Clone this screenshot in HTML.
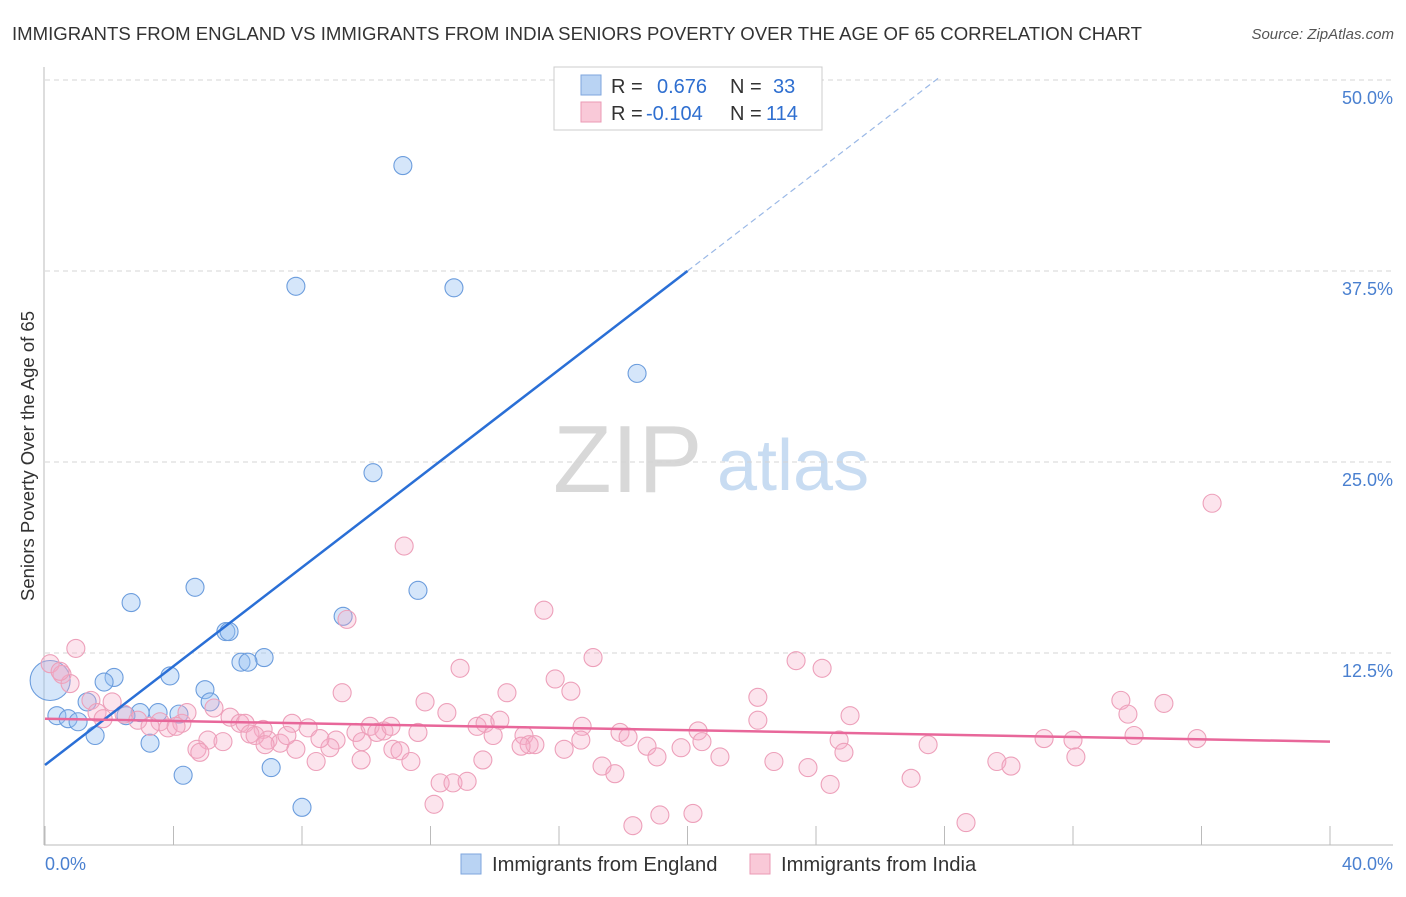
<!DOCTYPE html>
<html><head><meta charset="utf-8"><style>
body{margin:0;background:#fff;font-family:"Liberation Sans",sans-serif;}
svg text{font-family:"Liberation Sans",sans-serif;}
</style></head><body>
<svg id="chart" width="1406" height="892" xmlns="http://www.w3.org/2000/svg">
<text x="12" y="40" font-size="18.5" fill="#333" textLength="1130" lengthAdjust="spacingAndGlyphs">IMMIGRANTS FROM ENGLAND VS IMMIGRANTS FROM INDIA SENIORS POVERTY OVER THE AGE OF 65 CORRELATION CHART</text>
<text x="1394" y="39" font-size="15" fill="#555" font-style="italic" text-anchor="end">Source: ZipAtlas.com</text>
<g>
<text x="553" y="492" font-size="96" font-family="Liberation Serif" fill="#d8d8d8">ZIP</text>
<text x="717" y="490" font-size="72" fill="#c8dcf2">atlas</text>
</g>
<g id="grid"></g>
<g id="axes"></g>
<g id="blue"></g>
<g id="pink"></g>
<g id="lines"></g>
<g>
<rect x="554" y="67" width="268" height="63" fill="#fff" stroke="#ccc"/>
<rect x="581" y="75" width="20" height="20" fill="#b9d3f3" stroke="#7ea6de"/>
<rect x="581" y="102" width="20" height="20" fill="#f9c9d8" stroke="#eb9ab5"/>
<text x="611" y="93" font-size="20" fill="#333">R = </text><text x="657" y="93" font-size="20" fill="#2f6fd0">0.676</text>
<text x="730" y="93" font-size="20" fill="#333">N = </text><text x="773" y="93" font-size="20" fill="#2f6fd0">33</text>
<text x="611" y="120" font-size="20" fill="#333">R = </text><text x="646" y="120" font-size="20" fill="#2f6fd0">-0.104</text>
<text x="730" y="120" font-size="20" fill="#333">N = </text><text x="766" y="120" font-size="20" fill="#2f6fd0">114</text>
</g>
<g>
<rect x="461" y="854" width="20" height="20" fill="#b9d3f3" stroke="#7ea6de"/>
<text x="492" y="871" font-size="20.2" fill="#333">Immigrants from England</text>
<rect x="750" y="854" width="20" height="20" fill="#f9c9d8" stroke="#eb9ab5"/>
<text x="781" y="871" font-size="20.2" fill="#333">Immigrants from India</text>
</g>
<text transform="translate(34,456) rotate(-90)" font-size="18.5" fill="#333" text-anchor="middle">Seniors Poverty Over the Age of 65</text>
<text x="45" y="870" font-size="18" fill="#4a80d0">0.0%</text>
<text x="1393" y="870" font-size="18" fill="#4a80d0" text-anchor="end">40.0%</text>
</svg>
<script>
const yTicks=[12.5,25,37.5,50];
const yTickLabels=["12.5%","25.0%","37.5%","50.0%"];
const xTicks=[0,4,8,12,16,20,24,28,32,36,40];
const blueX=[0.16,11.14,7.81,12.73,18.43,10.21,4.67,2.68,11.61,9.28,5.63,5.73,6.82,6.10,6.32,3.89,2.15,1.84,4.98,5.14,1.31,0.37,0.72,1.03,2.96,3.52,4.17,2.52,1.56,3.27,4.30,7.04,8.0];
const blueY=[10.7,44.4,36.5,36.4,30.8,24.3,16.8,15.8,16.6,14.9,13.9,13.9,12.2,11.9,11.9,11.0,10.9,10.6,10.1,9.3,9.3,8.4,8.2,8.0,8.6,8.6,8.5,8.4,7.1,6.6,4.5,5.0,2.4];
const blueR=[20,9,9,9,9,9,9,9,9,9,9,9,9,9,9,9,9,9,9,9,9,9,9,9,9,9,9,9,9,9,9,9,9];
const pinkX=[36.33,11.18,15.53,9.40,0.96,17.06,23.38,24.19,12.92,0.16,0.53,0.78,15.88,16.37,9.25,22.19,33.49,34.83,33.71,11.83,14.38,1.43,2.09,25.06,12.51,22.19,5.76,5.26,2.46,2.89,1.62,1.81,3.58,3.83,4.26,4.42,6.07,6.23,6.79,7.69,8.19,9.06,9.68,10.12,10.33,10.55,11.61,13.45,13.70,14.16,14.91,16.72,17.90,18.15,20.33,20.45,24.72,31.10,32.00,35.86,33.90,27.49,6.38,6.94,7.32,7.81,8.87,8.56,9.87,10.83,11.05,15.07,15.25,14.82,16.68,13.95,16.16,18.74,19.05,19.80,21.01,22.69,23.75,24.87,26.96,29.63,30.07,32.09,8.44,9.84,11.39,13.63,17.34,17.74,12.30,12.70,13.14,12.11,18.30,19.14,20.17,28.67,24.44,5.07,4.73,5.54,3.27,4.08,6.54,0.47,7.53,4.82,6.85,10.77];
const pinkY=[22.3,19.5,15.3,14.7,12.8,12.2,12.0,11.5,11.5,11.8,11.1,10.5,10.8,10.0,9.9,9.6,9.4,9.2,8.5,9.3,9.9,9.4,9.3,8.4,8.6,8.1,8.3,8.9,8.5,8.1,8.6,8.2,8.0,7.6,7.9,8.6,7.9,7.9,7.5,7.9,7.6,6.8,7.3,7.7,7.3,7.4,7.3,7.7,7.9,8.1,7.1,7.7,7.3,7.0,7.4,6.7,6.8,6.9,6.8,6.9,7.1,6.5,7.2,6.8,6.6,6.2,6.3,6.9,6.7,6.2,6.1,6.5,6.5,6.4,6.8,7.1,6.2,6.4,5.7,6.3,5.7,5.4,5.0,6.0,4.3,5.4,5.1,5.7,5.4,5.5,5.4,5.5,5.1,4.6,4.0,4.0,4.1,2.6,1.2,1.9,2.0,1.4,3.9,6.8,6.2,6.7,7.7,7.7,7.1,11.3,7.1,6.0,6.5,7.7];
const blueTrend=[5.17,1.6165];
const pinkTrend=[8.2,-0.0375];
const NS="http://www.w3.org/2000/svg";
const X=v=>45+v*32.125, Y=v=>844-v*15.28;
function mk(p,t,a){const e=document.createElementNS(NS,t);for(const k in a)e.setAttribute(k,a[k]);p.appendChild(e);return e;}
const grid=document.getElementById('grid'),axes=document.getElementById('axes');
yTicks.forEach((v,i)=>{
 const l=mk(grid,'line',{x1:45,x2:1393,y1:Y(v),y2:Y(v),stroke:'#d5d5d5','stroke-dasharray':'5,4'});
 
 
 const t=mk(axes,'text',{x:1393,y:Y(v)+24,'font-size':18,fill:'#4a80d0','text-anchor':'end'});
 t.textContent=yTickLabels[i];
 
 
});
mk(axes,'line',{x1:44,x2:44,y1:67,y2:845,stroke:'#bbb'});
mk(axes,'line',{x1:44,x2:1393,y1:845,y2:845,stroke:'#bbb'});
xTicks.forEach(v=>{const t=mk(axes,'line',{x1:X(v),x2:X(v),y1:826,y2:845,stroke:'#bbb'});
 
 });
const pg=document.getElementById('pink');
pinkX.forEach((v,i)=>{const c=mk(pg,'circle',{cx:X(v),cy:Y(pinkY[i]),r:9,fill:'rgba(245,170,198,0.32)',stroke:'#eda0ba','stroke-width':1.1});
 
 });
const bg=document.getElementById('blue');
blueX.forEach((v,i)=>{const c=mk(bg,'circle',{cx:X(v),cy:Y(blueY[i]),r:blueR[i],fill:'rgba(150,192,242,0.4)',stroke:'#6c9ddd','stroke-width':1.1});
 
 });
const lg=document.getElementById('lines');
const bf=x=>blueTrend[0]+blueTrend[1]*x, pf=x=>pinkTrend[0]+pinkTrend[1]*x;
const b1=mk(lg,'line',{x1:X(0),y1:Y(bf(0)),x2:X(20),y2:Y(bf(20)),stroke:'#2a6fd6','stroke-width':2.5});


const b2=mk(lg,'line',{x1:X(20),y1:Y(bf(20)),x2:X(27.8),y2:Y(bf(27.8)),stroke:'#9ab8e6','stroke-width':1.2,'stroke-dasharray':'6,4'});


const p1=mk(lg,'line',{x1:X(0),y1:Y(pf(0)),x2:X(40),y2:Y(pf(40)),stroke:'#e8679a','stroke-width':2.5});


</script>
</body></html>
